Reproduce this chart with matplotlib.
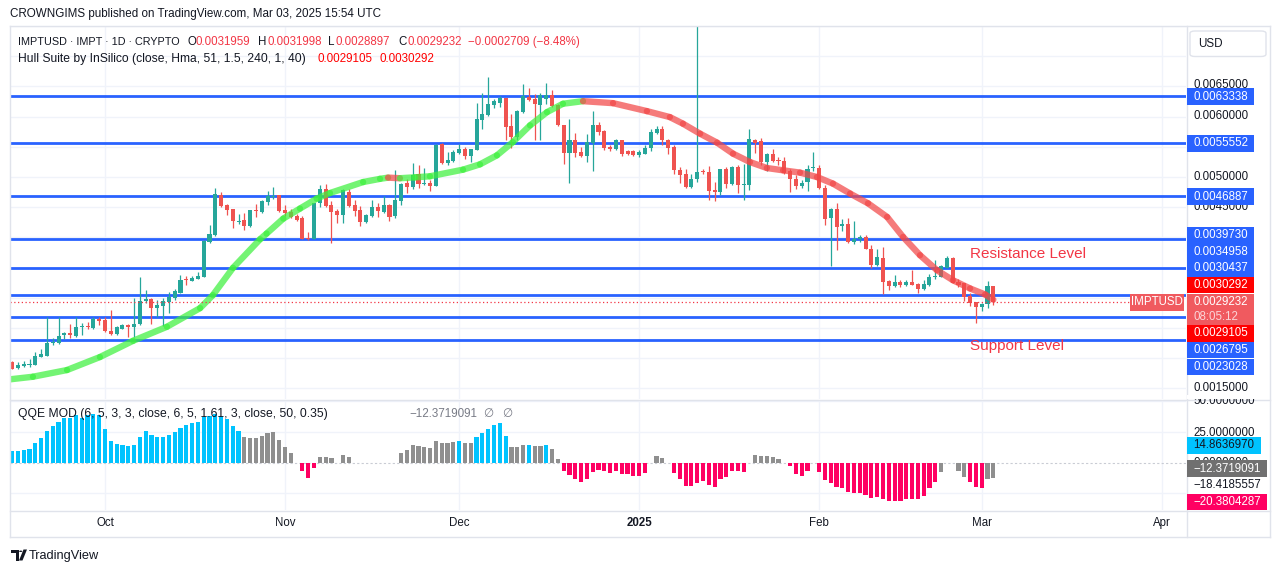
import numpy as np
import pandas as pd
import matplotlib
matplotlib.use("Agg")
import matplotlib.pyplot as plt
import matplotlib.dates as mdates
from matplotlib.patches import Rectangle, FancyBboxPatch, Polygon, Circle
from matplotlib.collections import LineCollection

plt.rcParams['font.family'] = ['Liberation Sans', 'DejaVu Sans']

# ---------------- data ----------------
U = 1e-4  # OHLC / hull values below are in units of 0.0001 USD
dates = pd.date_range("2024-09-15", "2025-03-03", freq="D")

open_ = [19.37, 18.43, 18.76, 18.87, 18.92, 20.25, 20.40, 22.46, 22.56, 23.88,
         24.12, 23.72, 25.21, 25.32, 25.04, 26.53, 26.31, 24.54, 24.00, 24.88,
         25.44, 25.21, 25.65, 29.50, 29.78, 28.25, 28.68, 29.34, 29.99, 30.83,
         33.09, 32.81, 33.14, 33.47, 39.26, 40.36, 47.09, 45.32, 44.66, 42.56,
         42.84, 41.90, 44.55, 44.21, 45.87, 46.69, 46.97, 44.50, 44.16, 43.55,
         43.22, 39.82, 39.70, 45.70, 47.97, 45.32, 44.38, 43.67, 47.47, 45.32,
         44.50, 42.56, 43.55, 45.04, 44.21, 45.32, 43.55, 46.03, 49.01, 48.35,
         50.56, 48.79, 49.07, 48.51, 55.40, 52.31, 52.64, 53.97, 54.58, 53.47,
         54.41, 59.37, 60.20, 61.90, 62.23, 63.06, 58.38, 56.61, 60.75, 63.22,
         62.84, 61.85, 62.96, 63.50, 61.85, 58.55, 53.97, 56.07, 54.13, 53.42,
         55.62, 58.55, 57.55, 54.96, 54.58, 56.07, 54.30, 54.25, 53.70, 53.87,
         54.86, 57.34, 58.00, 56.07, 54.96, 51.11, 50.45, 48.35, 49.73, 50.99,
         50.82, 47.92, 47.52, 51.27, 48.79, 51.66, 48.68, 48.63, 56.07, 55.90,
         52.48, 53.87, 52.81, 52.59, 50.99, 49.73, 48.46, 49.17, 51.49, 51.55,
         48.25, 43.22, 44.66, 41.90, 42.30, 39.26, 39.70, 40.03, 38.16, 35.41,
         36.61, 32.76, 31.98, 32.54, 32.10, 32.54, 32.26, 31.44, 32.10, 33.37,
         33.47, 35.02, 36.61, 32.65, 32.38, 30.33, 29.24, 28.51, 28.90, 31.959]
high = [19.58, 19.42, 19.58, 19.81, 21.07, 21.47, 26.76, 23.29, 26.86, 24.38,
        25.65, 26.76, 25.76, 26.03, 26.76, 26.76, 26.86, 27.97, 25.32, 25.65,
        25.65, 29.90, 33.37, 31.27, 29.99, 29.62, 29.99, 30.99, 31.39, 33.75,
        33.58, 33.58, 34.30, 39.54, 42.02, 48.13, 47.47, 45.60, 44.66, 43.83,
        44.05, 44.61, 45.49, 46.15, 47.69, 48.35, 47.09, 45.32, 44.78, 43.83,
        43.62, 40.91, 45.77, 48.63, 48.79, 46.03, 44.78, 48.08, 48.02, 46.26,
        45.16, 43.95, 46.26, 45.70, 46.81, 45.49, 51.22, 49.07, 49.73, 52.31,
        52.05, 51.55, 49.45, 55.52, 55.62, 54.13, 54.41, 55.40, 54.96, 54.69,
        62.23, 63.88, 66.53, 62.96, 63.34, 63.06, 60.48, 61.14, 65.32, 64.71,
        63.67, 63.88, 65.54, 64.33, 62.13, 58.55, 59.54, 57.27, 54.96, 57.17,
        60.91, 59.09, 57.83, 55.24, 56.35, 56.07, 54.53, 54.41, 54.53, 55.24,
        58.00, 58.38, 58.38, 56.35, 55.24, 51.66, 51.27, 50.56, 75.50, 51.38,
        51.82, 49.17, 51.27, 51.66, 51.82, 52.05, 52.21, 57.88, 56.35, 56.51,
        54.03, 54.69, 53.31, 53.31, 51.38, 50.39, 49.45, 51.93, 54.13, 52.05,
        48.63, 44.88, 45.77, 43.01, 43.22, 42.68, 40.48, 40.36, 38.71, 38.05,
        38.43, 32.92, 33.75, 32.92, 32.92, 34.58, 32.38, 32.92, 33.92, 36.23,
        35.41, 36.89, 36.78, 33.04, 32.48, 30.83, 29.34, 29.17, 32.81, 31.998]
low = [18.16, 18.16, 18.59, 18.59, 18.92, 20.15, 20.36, 22.19, 22.35, 23.12,
       23.29, 23.55, 23.83, 24.77, 24.77, 25.49, 24.38, 23.83, 23.83, 24.77,
       23.45, 23.45, 25.49, 29.07, 25.65, 26.76, 25.32, 27.42, 29.62, 30.72,
       32.10, 32.81, 33.04, 33.47, 39.09, 40.19, 45.04, 43.67, 41.57, 42.30,
       41.30, 41.73, 43.39, 44.05, 45.32, 46.43, 44.21, 43.50, 43.29, 42.73,
       39.70, 39.54, 39.70, 45.04, 45.04, 39.09, 42.40, 42.40, 45.04, 43.55,
       41.90, 42.40, 43.39, 43.39, 44.05, 42.73, 43.29, 45.32, 47.35, 47.97,
       48.18, 48.63, 47.69, 48.51, 52.10, 51.93, 52.48, 53.87, 53.04, 52.48,
       54.41, 57.88, 60.08, 61.47, 61.57, 56.07, 54.86, 56.07, 60.58, 62.56,
       56.07, 56.07, 62.13, 61.57, 58.38, 52.10, 49.01, 53.31, 53.31, 52.48,
       50.99, 56.89, 54.41, 54.30, 54.41, 53.42, 53.59, 53.42, 53.31, 53.75,
       54.30, 57.06, 55.24, 53.87, 50.56, 49.07, 48.18, 48.18, 49.17, 50.56,
       46.15, 46.03, 46.97, 48.25, 48.63, 47.35, 46.26, 47.92, 53.97, 52.05,
       50.99, 52.48, 52.05, 50.56, 47.52, 48.08, 48.18, 47.69, 50.99, 48.08,
       42.02, 35.29, 37.88, 41.02, 39.16, 38.99, 39.26, 38.05, 34.86, 35.29,
       30.56, 31.31, 31.81, 31.81, 32.00, 32.10, 30.72, 31.27, 32.00, 33.20,
       33.37, 34.86, 32.38, 31.81, 29.50, 28.63, 25.87, 27.85, 28.35, 28.897]
close = [18.26, 18.87, 19.04, 18.99, 20.36, 20.69, 22.46, 22.72, 23.72, 24.12,
         23.83, 25.11, 25.32, 25.21, 26.43, 26.20, 24.54, 24.00, 25.11, 25.44,
         25.21, 25.65, 29.45, 29.78, 28.25, 28.79, 29.45, 30.12, 31.16, 32.92,
         32.92, 33.26, 33.58, 39.37, 40.53, 47.25, 45.16, 44.50, 42.73, 42.73,
         41.90, 44.50, 44.45, 45.98, 46.86, 46.86, 44.38, 44.05, 43.39, 42.96,
         39.70, 39.70, 45.77, 47.97, 45.16, 44.21, 43.67, 47.80, 45.16, 44.38,
         42.56, 43.67, 45.04, 44.38, 45.32, 43.39, 46.15, 48.91, 48.35, 50.28,
         48.91, 49.07, 48.51, 55.24, 52.31, 52.76, 54.13, 54.58, 53.47, 54.58,
         59.54, 60.36, 62.02, 62.51, 63.06, 58.26, 56.61, 60.86, 63.39, 62.68,
         62.13, 63.50, 63.50, 61.69, 58.55, 53.97, 56.07, 53.97, 53.42, 55.78,
         58.55, 57.44, 54.79, 54.58, 56.07, 53.87, 53.87, 53.70, 54.13, 54.86,
         57.44, 58.00, 56.07, 54.79, 51.11, 50.40, 48.35, 49.73, 50.82, 50.82,
         47.69, 47.52, 51.27, 48.79, 51.66, 48.63, 48.79, 56.23, 55.69, 52.48,
         53.87, 52.64, 52.71, 50.73, 49.62, 48.51, 49.07, 51.38, 51.55, 48.18,
         43.12, 44.78, 41.73, 42.30, 39.26, 39.82, 40.03, 38.16, 35.41, 36.68,
         32.64, 31.98, 32.54, 32.10, 32.65, 32.10, 31.44, 32.26, 33.47, 33.63,
         35.24, 36.61, 32.48, 32.10, 30.17, 29.17, 28.51, 28.96, 31.93, 29.232]

hull_dates = ["2024-09-14 15:00", "2024-09-18 14:00", "2024-09-24 11:00", "2024-09-30 03:00",
              "2024-10-05 20:00", "2024-10-11 16:00", "2024-10-17 09:00", "2024-10-19 14:00",
              "2024-10-23 01:00", "2024-10-27 17:00", "2024-10-28 20:00", "2024-10-31 17:00",
              "2024-11-03 14:00", "2024-11-06 11:00", "2024-11-08 18:00", "2024-11-14 11:00",
              "2024-11-17 09:00", "2024-11-18 18:00", "2024-11-20 19:00", "2024-11-23 09:00",
              "2024-11-25 23:00", "2024-12-01 16:00", "2024-12-04 14:00", "2024-12-07 12:00",
              "2024-12-10 06:00", "2024-12-13 05:00", "2024-12-16 03:00", "2024-12-18 21:00",
              "2024-12-22 08:00", "2024-12-27 12:00", "2025-01-02 08:00", "2025-01-06 07:00",
              "2025-01-08 13:00", "2025-01-11 12:00", "2025-01-14 10:00", "2025-01-17 04:00",
              "2025-01-20 02:00", "2025-01-23 00:00", "2025-01-25 19:00", "2025-01-28 17:00",
              "2025-01-31 15:00", "2025-02-03 09:00", "2025-02-06 08:00", "2025-02-09 10:00",
              "2025-02-12 17:00", "2025-02-15 11:00", "2025-02-18 09:00", "2025-02-21 07:00",
              "2025-02-24 01:00", "2025-02-27 00:00", "2025-03-01 14:00", "2025-03-03 00:00"]
hull_vals = [16.51, 16.94, 18.05, 20.20,
             22.89, 25.21, 28.30, 30.45,
             34.96, 39.70, 40.64, 43.12,
             44.78, 46.43, 47.35, 49.17,
             49.70, 49.90, 49.80, 49.95,
             50.12, 51.22, 52.10, 53.59,
             55.78, 58.55, 60.74, 62.13,
             62.56, 62.23, 60.91, 59.92,
             58.83, 57.17, 55.69, 53.87,
             52.48, 51.49, 51.11, 50.73,
             50.00, 48.91, 47.26, 45.65,
             43.39, 40.08, 37.06, 34.58,
             32.92, 31.55, 30.56, 29.70]

qqe_vals = [9.8, 9.8, 10.3, 11.1, 16.3, 20.1, 25.8, 29.9, 33.2, 36.1,
            36.1, 38.6, 36.1, 38.6, 39.7, 38.9, 27.4, 17.7, 15.2, 14.4,
            13.6, 14.7, 20.9, 25.8, 22.8, 21.2, 21.2, 22.8, 25.0, 28.3,
            30.7, 32.1, 33.4, 37.5, 38.0, 39.7, 38.0, 35.6, 29.9, 25.8,
            21.2, 20.1, 20.1, 22.0, 24.2, 25.0, 18.5, 12.5, 8.2, 0.0,
            -6.5, -12.2, -4.1, 4.6, 4.6, 3.8, 0.0, 6.3, 4.6, 0.0,
            0.0, 0.0, 0.0, 0.0, 0.0, 0.0, 0.0, 7.6, 10.3, 14.4,
            13.9, 12.8, 12.0, 17.7, 16.0, 15.8, 16.8, 17.7, 16.3, 16.3,
            20.9, 24.2, 27.4, 30.7, 32.3, 22.0, 12.8, 12.8, 14.4, 14.4,
            13.9, 13.9, 14.7, 11.1, 3.0, -6.5, -10.1, -13.3, -15.5, -13.6,
            -7.3, -6.0, -6.5, -8.2, -6.6, -9.0, -9.0, -10.9, -10.9, -8.2,
            0.0, 5.4, 3.5, 0.0, -8.2, -13.3, -19.0, -19.0, -16.3, -14.7,
            -17.9, -19.6, -13.0, -11.4, -6.5, -6.5, -7.3, 0.0, 6.3, 5.4,
            5.4, 4.3, 3.0, 0.0, -2.7, -9.2, -10.9, -6.5, 0.0, -7.3,
            -14.1, -16.3, -19.6, -20.4, -23.6, -24.5, -24.5, -26.4, -28.5, -27.7,
            -29.6, -31.0, -31.0, -31.0, -29.3, -29.3, -29.3, -26.9, -20.4, -15.5,
            -7.3, 0.0, 0.0, -6.5, -11.4, -15.5, -19.6, -20.4, -13.0, -12.37]
# colour class per bar: b = above upper band, g = neutral, p = below lower band
qqe_cls = ("b" * 40 + "g" * 10 + "p" * 3 + "g" * 24 + "b" + "g" * 2 + "b" * 6 +
           "g" * 3 + "b" + "g" * 2 + "b" + "g" * 2 + "p" * 15 + "g" * 4 + "p" * 13 +
           "g" * 7 + "p" * 26 + "g" * 5 + "p" * 3 + "g" * 2)

levels = [0.0063338, 0.0055552, 0.0046887, 0.0039730,
          0.0034958, 0.0030437, 0.0026795, 0.0023028]
last_price = 0.0029232
hull_now = ["0.0029105", "0.0030292"]
price_ticks = ["0.0065000", "0.0060000", "0.0050000", "0.0045000", "0.0015000"]
month_ticks = ["2024-10-01", "2024-11-01", "2024-12-01", "2025-01-01",
               "2025-02-01", "2025-03-01", "2025-04-01"]
month_labels = ["Oct", "Nov", "Dec", "2025", "Feb", "Mar", "Apr"]

# ---------------- figure ----------------
W, H = 1281, 573
fig = plt.figure(figsize=(W / 100, H / 100), dpi=100)
fig.patch.set_facecolor("white")

def fx(x):
    return x / W

def fy(y):
    return 1 - y / H

def T(x, y, s, size=8.3, color="#131722", ha="left", va="center", weight="normal", z=6, **kw):
    return fig.text(fx(x), fy(y), s, fontsize=size, color=color, ha=ha, va=va,
                    fontweight=weight, zorder=z, **kw)

def R(x0, y0, x1, y1, color, z=5, **kw):
    r = Rectangle((fx(x0), fy(y1)), (x1 - x0) / W, (y1 - y0) / H,
                  transform=fig.transFigure, facecolor=color, edgecolor="none",
                  zorder=z, **kw)
    fig.add_artist(r)
    return r

def L(x0, y0, x1, y1, color="#e0e3eb", lw=1.0, z=4, **kw):
    fig.add_artist(plt.Line2D([fx(x0), fx(x1)], [fy(y0), fy(y1)], transform=fig.transFigure,
                              color=color, lw=lw, zorder=z, **kw))

GRID = "#f0f3fa"
BORDER = "#e0e3eb"
UPC, DNC = "#26a69a", "#ef5350"

left, right = 10, 1186
main_top, main_bot = 26, 399
ind_top, ind_bot = 400, 510

x = mdates.date2num(dates)
d0 = mdates.date2num(pd.Timestamp("2024-10-01"))
px_per_day = 5.806
xlim = (d0 + (left - 105) / px_per_day, d0 + (right - 105) / px_per_day)

# ---- main pane ----
ax = fig.add_axes([fx(left), fy(main_bot), (right - left) / W, (main_bot - main_top) / H])
ax.set_xlim(*xlim)
ax.set_ylim(0.0013255, 0.0074908)
for s in ax.spines.values():
    s.set_visible(False)
ax.set_xticks(mdates.date2num(pd.to_datetime(month_ticks)))
ax.set_yticks(np.arange(0.0015, 0.00751, 0.0005))
ax.tick_params(length=0, labelbottom=False, labelleft=False)
ax.grid(True, color=GRID, lw=1.0)
ax.set_axisbelow(True)

o = np.array(open_) * U
h = np.array(high) * U
lo = np.array(low) * U
c = np.array(close) * U
up = c >= o
cols = np.where(up, UPC, DNC)
ax.vlines(x, lo, h, colors=cols, lw=0.9, zorder=3)
ax.bar(x, np.maximum(np.abs(c - o), 0.17 * U), bottom=np.minimum(o, c), width=0.7,
       color=cols, lw=0, zorder=4)

# support / resistance lines
for lv in levels:
    ax.axhline(lv, color="#2962ff", lw=2.0, zorder=2)

# Hull band
hx = mdates.date2num(pd.to_datetime(hull_dates))
hv = np.array(hull_vals) * U
segs = [[(hx[i], hv[i]), (hx[i + 1], hv[i + 1])] for i in range(len(hx) - 1)]
hcols = ["#3ff03f" if hv[i + 1] >= hv[i] else "#f24848" for i in range(len(hx) - 1)]
lc = LineCollection(segs, colors=hcols, linewidths=4.6, alpha=0.72, zorder=5,
                    capstyle="round", joinstyle="round")
ax.add_collection(lc)

# last price dotted line
ax.plot([xlim[0], d0 + (1130 - 105) / px_per_day], [last_price, last_price],
        color="#f23645", lw=0.9, ls=(0, (1, 2)), zorder=6)

ax.text(d0 + (970 - 105) / px_per_day, 0.0034958 + 0.00023, "Resistance Level",
        color="#f23645", fontsize=11, va="center", ha="left", zorder=7)
ax.text(d0 + (970 - 105) / px_per_day, 0.0023028 - 0.0001, "Support Level",
        color="#f23645", fontsize=11, va="center", ha="left", zorder=7)

# ---- indicator pane ----
ax2 = fig.add_axes([fx(left), fy(ind_bot), (right - left) / W, (ind_bot - ind_top) / H])
ax2.set_xlim(*xlim)
ax2.set_ylim(-38.5, 51.1)
for s in ax2.spines.values():
    s.set_visible(False)
ax2.set_xticks(mdates.date2num(pd.to_datetime(month_ticks)))
ax2.set_yticks([-25, 25, 50])
ax2.tick_params(length=0, labelbottom=False, labelleft=False)
ax2.grid(True, color=GRID, lw=1.0)
ax2.set_axisbelow(True)
ax2.axhline(0, color="#c9ccd4", lw=0.8, ls=(0, (2, 2)), zorder=1)
cmap = {"b": "#00c3ff", "g": "#8f8f8f", "p": "#ff0062"}
ax2.bar(x, qqe_vals, width=0.72, color=[cmap[k] for k in qqe_cls], lw=0, zorder=3)

# ---- frame lines ----
L(left, 25.5, 1270, 25.5)
L(left, 399.5, 1270, 399.5)
L(left, 510.5, 1270, 510.5)
L(left, 537, 1270, 537)
L(1186.5, 25.5, 1186.5, 537)
L(1270, 25.5, 1270, 537)
L(left, 25.5, left, 537)

# ---- header & legends ----
T(10, 14, "CROWNGIMS published on TradingView.com, Mar 03, 2025 15:54 UTC", size=8.4)
RED = "#f23645"
T(18, 42, "IMPTUSD \u00b7 IMPT \u00b7 1D \u00b7 CRYPTO", size=7.8)
T(187, 42, "O", size=8.3); T(196, 42, "0.0031959", size=8.3, color=RED)
T(258, 42, "H", size=8.3); T(267, 42, "0.0031998", size=8.3, color=RED)
T(328, 42, "L", size=8.3); T(336, 42, "0.0028897", size=8.3, color=RED)
T(398, 42, "C", size=8.3); T(407, 42, "0.0029232", size=8.3, color=RED)
T(468, 42, "\u22120.0002709 (\u22128.48%)", size=8.3, color=RED)
T(18, 59, "Hull Suite by InSilico (close, Hma, 51, 1.5, 240, 1, 40)", size=8.7)
T(318, 59, hull_now[0], size=8.4, color="#ff0000")
T(380, 59, hull_now[1], size=8.4, color="#ff0000")
T(18, 414, "QQE MOD (6, 5, 3, 3, close, 6, 5, 1.61, 3, close, 50, 0.35)", size=8.7)
T(409, 414, "\u221212.3719091", size=8.4, color="#787b86")
T(483, 414, "\u2205", size=8.4, color="#787b86")
T(502, 414, "\u2205", size=8.4, color="#787b86")

# ---- price scale ----
fig.add_artist(FancyBboxPatch((fx(1190), fy(56.5)), (1266 - 1190) / W, (56.5 - 31) / H,
                              boxstyle="round,pad=0,rounding_size=0.004",
                              transform=fig.transFigure, facecolor="white",
                              edgecolor=BORDER, lw=1.0, zorder=5))
T(1198, 44, "USD", size=8.4)

tick_y = [85, 116, 177, 207, 388]
for s, yy in zip(price_ticks, tick_y):
    T(1193, yy, s, size=8.3, z=5)

BLUE = "#2962ff"
lab = [("0.0063338", 96.7, BLUE), ("0.0055552", 143.3, BLUE), ("0.0046887", 196.7, BLUE),
       ("0.0039730", 235.0, BLUE), ("0.0034958", 251.7, BLUE), ("0.0030437", 268.3, BLUE),
       ("0.0030292", 285.0, "#ff0000"), ("0.0029105", 333.3, "#ff0000"),
       ("0.0026795", 350.0, BLUE), ("0.0023028", 367.0, BLUE)]
for s, yy, col in lab:
    R(1187, yy - 8.3, 1254, yy + 8.3, col, z=6)
    T(1193, yy, s, size=8.3, color="white", z=7)
# current price label
R(1187, 294.3, 1254, 325, "#f05a5f", z=6)
T(1193, 302.3, "0.0029232", size=8.3, color="white", z=7)
T(1193, 317, "08:05:12", size=8.3, color="#fbd5d7", z=7)
R(1130, 294.3, 1184, 310.5, "#f05a5f", z=6)
T(1157, 302.4, "IMPTUSD", size=8.3, color="white", ha="center", z=7)

# indicator scale
R(1187, 394.5, 1269, 399.3, "white", z=5.5)
T(1193, 401.5, "50.0000000", size=8.3, z=5)
T(1193, 432.5, "25.0000000", size=8.3, z=5)
T(1193, 462.5, "0.0000000", size=8.3, z=5)
T(1193, 485, "\u221218.4185557", size=8.3, z=5)
R(1187, 437, 1261, 454, "#00c3ff", z=6)
T(1193, 445.5, "14.8636970", size=8.3, z=7)
R(1187, 460, 1267, 477, "#707070", z=6)
T(1193, 468.5, "\u221212.3719091", size=8.3, color="white", z=7)
R(1187, 494, 1267, 510, "#ff0062", z=6)
T(1193, 502, "\u221220.3804287", size=8.3, color="white", z=7)

# ---- time scale ----
month_x = [105 + (mdates.date2num(pd.Timestamp(m)) - d0) * px_per_day for m in month_ticks]
for mx, s in zip(month_x, month_labels):
    T(mx, 523, s, size=8.3, ha="center", weight="bold" if s == "2025" else "normal")

# ---- TradingView logo ----
fig.add_artist(Polygon([(fx(11), fy(549.5)), (fx(18.5), fy(549.5)), (fx(18.5), fy(560.5)),
                        (fx(15.5), fy(560.5)), (fx(15.5), fy(552.5)), (fx(11), fy(552.5))],
                       closed=True, transform=fig.transFigure, facecolor="#131722",
                       edgecolor="none", zorder=6))
fig.add_artist(Circle((fx(20.7), fy(551.3)), 1.6 / W, transform=fig.transFigure,
                      facecolor="#131722", edgecolor="none", zorder=6))
fig.add_artist(Polygon([(fx(23.5), fy(549.5)), (fx(27), fy(549.5)), (fx(22.5), fy(560.5)),
                        (fx(19), fy(560.5))], closed=True, transform=fig.transFigure,
                       facecolor="#131722", edgecolor="none", zorder=6))
T(29, 555.5, "TradingView", size=9.2)

fig.savefig("out.png", dpi=100, facecolor="white")
